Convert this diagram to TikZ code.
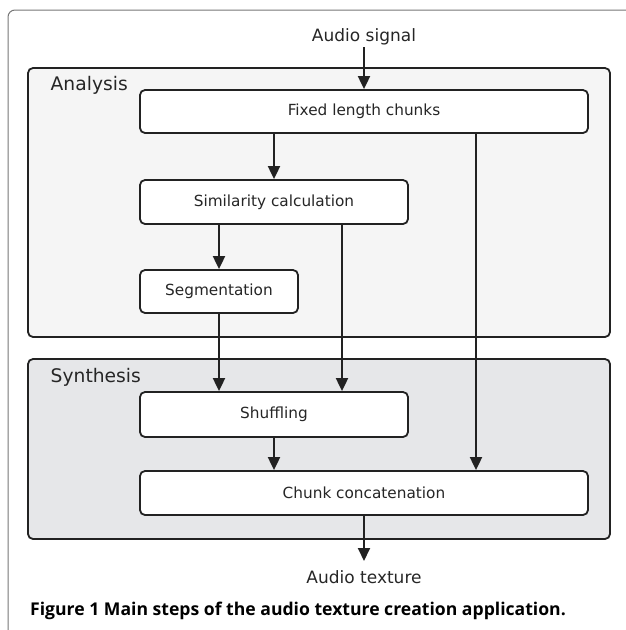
\documentclass[tikz,border=0pt]{standalone}
\usepackage{fontspec}
\setmainfont{DejaVu Sans}
\newfontfamily\capfont{Open Sans}
\usetikzlibrary{arrows.meta}
\definecolor{linecol}{HTML}{222222}
\definecolor{anafill}{HTML}{F5F5F5}
\definecolor{synfill}{HTML}{E6E7E9}
\definecolor{framecol}{HTML}{777777}
\tikzset{
  container/.style={draw=linecol, line width=1.8pt, rounded corners=5pt, inner sep=0pt},
  stepbox/.style={draw=linecol, fill=white, line width=1.8pt, rounded corners=5pt, inner sep=0pt,
    font=\fontsize{15.3}{18}\selectfont, text=black!85},
  grouplabel/.style={font=\fontsize{18.7}{22}\selectfont, text=black!85, anchor=base west, inner sep=0pt},
  iolabel/.style={font=\fontsize{17}{20}\selectfont, text=black!85, inner sep=0pt},
  arr/.style={draw=linecol, line width=1.9pt, -{Triangle[width=12pt,length=13pt]}}
}
\begin{document}
\begin{tikzpicture}[x=1pt,y=-1pt]
\useasboundingbox (0,0) rectangle (626,630);
\draw[framecol, line width=1pt, rounded corners=7pt] (8,631) -- (8,10) -- (627,10);
% containers
\node[container, fill=anafill, minimum width=582pt, minimum height=269pt] (analysis) at (319,202.5) {};
\node[container, fill=synfill, minimum width=582pt, minimum height=180pt] (synthesis) at (319,449) {};
\node[grouplabel] (analabel) at (50.5,90.5) {Analysis};
\node[grouplabel] (synlabel) at (50.5,382) {Synthesis};
% boxes
\node[stepbox, minimum width=448pt, minimum height=43pt] (fixed) at (364,111.5) {Fixed length chunks};
\node[stepbox, minimum width=268pt, minimum height=44pt] (sim) at (274,202) {Similarity calculation};
\node[stepbox, minimum width=158pt, minimum height=43pt] (seg) at (219,291.5) {Segmentation};
\node[stepbox, minimum width=268pt, minimum height=45pt] (shuf) at (274,414.5) {Shuffling};
\node[stepbox, minimum width=448pt, minimum height=44pt] (chunk) at (364,493) {Chunk concatenation};
% io
\node[iolabel, anchor=base] (insig) at (364,41) {Audio signal};
\node[iolabel, anchor=base] (outtex) at (364,583) {Audio texture};
\coordinate (inpt) at (364,47);
\coordinate (outpt) at (364,561);
\coordinate (simr) at ([xshift=68pt]sim.south);
\coordinate (fixr) at ([xshift=112pt]fixed.south);
% arrows
\draw[arr] (inpt) -- (inpt |- fixed.north);
\draw[arr] (fixed.south -| sim.north) -- (sim.north);
\draw[arr] (sim.south -| seg.north) -- (seg.north);
\draw[arr] (seg.south) -- (seg.south |- shuf.north);
\draw[arr] (simr) -- (simr |- shuf.north);
\draw[arr] (fixr) -- (fixr |- chunk.north);
\draw[arr] (shuf.south) -- (shuf.south |- chunk.north);
\draw[arr] (chunk.south) -- (outpt);
% caption
\node[anchor=base west, inner sep=0pt, font=\capfont\bfseries\fontsize{17.6}{20}\selectfont] (caption) at (30,615) {Figure 1 Main steps of the audio texture creation application.};
\end{tikzpicture}
\end{document}
